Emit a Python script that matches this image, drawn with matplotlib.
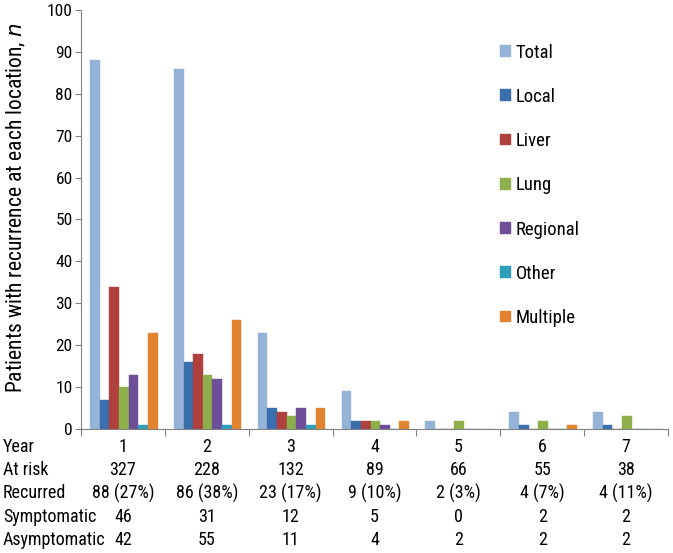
import matplotlib.pyplot as plt
import matplotlib.transforms as mtransforms
import numpy as np

plt.rcParams['font.family'] = ['Roboto Condensed', 'Liberation Sans', 'DejaVu Sans']
fs = 13

years = ['1', '2', '3', '4', '5', '6', '7']
series = ['Total', 'Local', 'Liver', 'Lung', 'Regional', 'Other', 'Multiple']
total = [88, 86, 23, 9, 2, 4, 4]
local = [7, 16, 5, 2, 0, 1, 1]
liver = [34, 18, 4, 2, 0, 0, 0]
lung = [10, 13, 3, 2, 2, 2, 3]
regional = [13, 12, 5, 1, 0, 0, 0]
other = [1, 1, 1, 0, 0, 0, 0]
multiple = [23, 26, 5, 2, 0, 1, 0]
colors = ['#95b3d7', '#3a6ead', '#b0403d', '#8eb04b', '#6e4f97', '#2f9fb9', '#e2832f']

at_risk = ['327', '228', '132', '89', '66', '55', '38']
recurred = ['88 (27%)', '86 (38%)', '23 (17%)', '9 (10%)', '2 (3%)', '4 (7%)', '4 (11%)']
symptomatic = ['46', '31', '12', '5', '0', '2', '2']
asymptomatic = ['42', '55', '11', '4', '2', '2', '2']

fig = plt.figure(figsize=(6.73, 5.53), dpi=100)
ax = fig.add_axes([0.1204, 0.2242, 0.8722, 0.7578])

x = np.arange(len(years))
w = 0.115
values = [total, local, liver, lung, regional, other, multiple]
for k, (name, vals, c) in enumerate(zip(series, values, colors)):
    ax.bar(x + (k - 3) * w + 0.01, vals, w, color=c, label=name,
           edgecolor=c, linewidth=0.3)

ax.set_xlim(-0.5, 6.5)
ax.set_ylim(0, 100)
ax.set_yticks(range(0, 101, 10))
ax.set_xticks(np.arange(-0.5, 7, 1))
ax.set_xticklabels([])
ax.tick_params(axis='x', direction='out', length=5, color='#808080')
ax.tick_params(axis='y', direction='out', length=4, color='#808080',
               labelsize=12.5, pad=2)
for s in ['top', 'right']:
    ax.spines[s].set_visible(False)
for s in ['left', 'bottom']:
    ax.spines[s].set_color('#808080')
ax.set_ylabel('Patients with recurrence at each location, $\\it{n}$', fontsize=15.5)
ax.yaxis.set_label_coords(-0.09, 0.528)

leg = ax.legend(loc='upper left', bbox_to_anchor=(0.685, 0.96), frameon=False,
                fontsize=13.5, handlelength=0.6, handleheight=0.6,
                handletextpad=0.25, labelspacing=1.4)

# table below the axis
trans = mtransforms.blended_transform_factory(ax.transData, fig.transFigure)
rows = [('Year', years), ('At risk', at_risk), ('Recurred', recurred),
        ('Symptomatic', symptomatic), ('Asymptomatic', asymptomatic)]
row_y = [447, 470, 493, 517, 540]
for (label, vals), yp in zip(rows, row_y):
    yf = 1 - yp / 553
    fig.text(3 / 673, yf, label, fontsize=fs, va='center', ha='left')
    for i, v in enumerate(vals):
        ax.text(i, yf, v, transform=trans, fontsize=fs, va='center', ha='center')

fig.savefig('out.png', dpi=100)
